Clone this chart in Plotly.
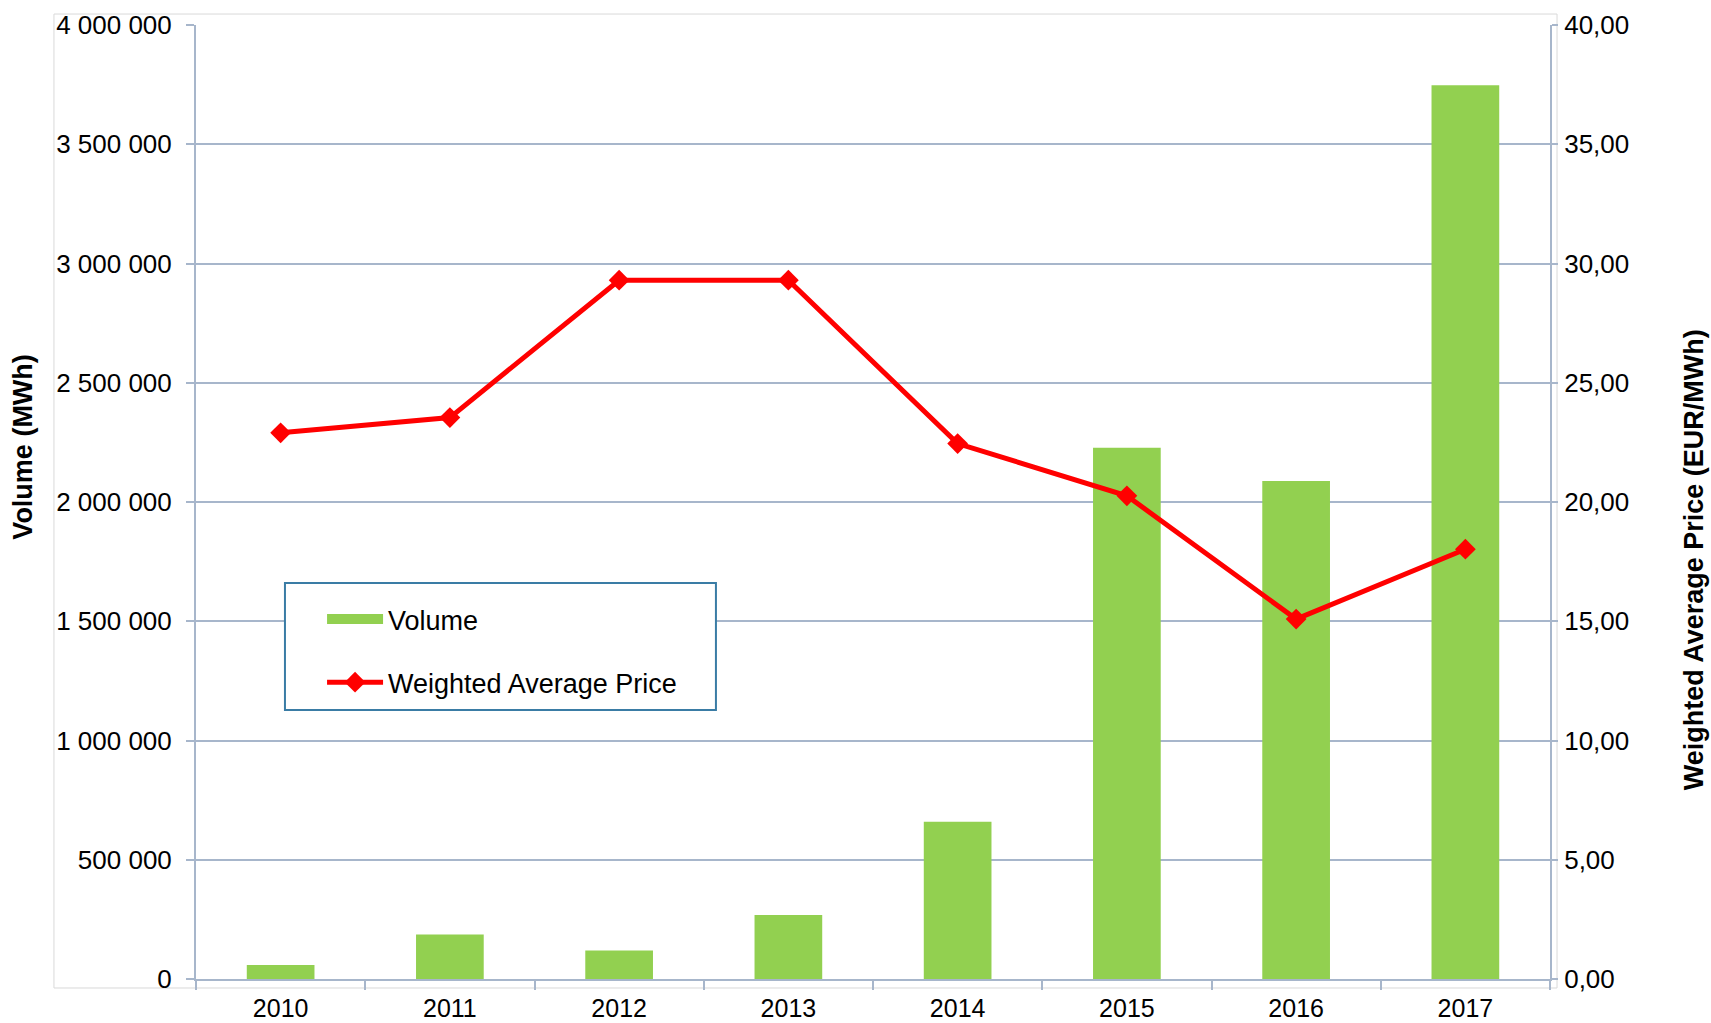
import plotly.graph_objects as go

years = ["2010", "2011", "2012", "2013", "2014", "2015", "2016", "2017"]
volume = [59000, 187000, 119000, 268000, 659000, 2227000, 2088000, 3747000]
price = [22.90, 23.54, 29.30, 29.30, 22.45, 20.26, 15.09, 18.02]

vol_ticks = [0, 500000, 1000000, 1500000, 2000000, 2500000, 3000000, 3500000, 4000000]
price_ticks = [0, 5, 10, 15, 20, 25, 30, 35, 40]

GREEN = "#92D050"
RED = "#FF0000"
GRID = "#A7B6CB"
FONT = "Liberation Sans, Arial, sans-serif"

fig = go.Figure()

fig.add_trace(go.Bar(
    x=years, y=volume, name="Volume", marker=dict(color=GREEN, line=dict(width=0)),
    showlegend=False, yaxis="y",
))
# legend entry for the volume bars (wide swatch like the original)
fig.add_trace(go.Scatter(
    x=[None], y=[None], name="Volume", mode="lines",
    line=dict(color=GREEN, width=15), legendgroup="a", yaxis="y",
))
fig.add_trace(go.Scatter(
    x=years, y=price, name="Weighted Average Price", mode="lines+markers",
    line=dict(color=RED, width=5),
    marker=dict(symbol="diamond", size=16, color=RED),
    legendgroup="b", yaxis="y2",
))

fig.update_layout(
    width=1711, height=1023, autosize=False,
    margin=dict(l=196, r=161, t=25, b=44, pad=0, autoexpand=False),
    paper_bgcolor="white", plot_bgcolor="white",
    separators=", ",
    font=dict(family=FONT, size=26, color="black"),
    bargap=0.6,
    showlegend=True,
    legend=dict(
        x=0.0931, y=0.4025, xanchor="left", yanchor="top",
        bgcolor="rgba(0,0,0,0)", borderwidth=0,
        font=dict(family=FONT, size=27, color="black"),
        itemwidth=56, tracegroupgap=25, traceorder="grouped",
    ),
    xaxis=dict(
        type="category", tickson="boundaries", ticks="outside", ticklen=9,
        tickcolor=GRID, tickwidth=2, showline=True, linecolor=GRID, linewidth=2,
        showgrid=False, tickfont=dict(size=25), ticklabelstandoff=6,
        automargin=False,
    ),
    yaxis=dict(
        range=[0, 4000000], tickvals=vol_ticks, tickformat=",d",
        ticks="outside", ticklen=8, tickcolor=GRID, tickwidth=2,
        showline=True, linecolor=GRID, linewidth=2,
        showgrid=True, gridcolor=GRID, gridwidth=2, zeroline=False,
        tickfont=dict(size=26), ticklabelstandoff=9, automargin=False,
    ),
    yaxis2=dict(
        range=[0, 40], tickvals=price_ticks, tickformat=".2f",
        overlaying="y", side="right",
        ticks="outside", ticklen=6, tickcolor=GRID, tickwidth=2,
        showline=True, linecolor=GRID, linewidth=2,
        showgrid=False, zeroline=False,
        tickfont=dict(size=26), ticklabelstandoff=1, automargin=False,
    ),
    shapes=[
        dict(type="rect", xref="paper", yref="paper",
             x0=-0.1049, x1=1.0052, y0=-0.00943, y1=1.0115,
             line=dict(color="#D9D9D9", width=1), fillcolor="rgba(0,0,0,0)",
             layer="below"),
        dict(type="rect", xref="paper", yref="paper",
             x0=0.0657, x1=0.384, y0=0.282, y1=0.4151,
             line=dict(color="#3A7CA5", width=2), fillcolor="white",
             layer="above"),
    ],
    annotations=[
        dict(text="Volume (MWh)", xref="paper", yref="paper", x=-0.1278, y=0.558,
             textangle=-90, showarrow=False, xanchor="center", yanchor="middle",
             font=dict(family=FONT, size=27, color="black", weight="bold")),
        dict(text="Weighted Average Price (EUR/MWh)", xref="paper", yref="paper",
             x=1.1064, y=0.439, textangle=-90, showarrow=False,
             xanchor="center", yanchor="middle",
             font=dict(family=FONT, size=27, color="black", weight="bold")),
    ],
)

fig.write_html(
    "out.html",
    config={"displayModeBar": False},
    post_script="document.body.style.margin='0';document.body.style.overflow='hidden';",
)
